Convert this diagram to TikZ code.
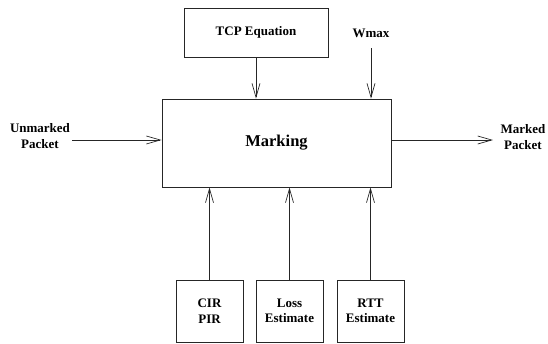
\documentclass[tikz,border=0pt]{standalone}
\usepackage{fontspec}
\setmainfont{Liberation Serif}
\usetikzlibrary{arrows.meta}
\begin{document}
\begin{tikzpicture}[x=1pt,y=-1pt,
  box/.style={draw=black!85, line width=0.8pt, align=center, inner sep=0pt,
    font=\bfseries\fontsize{13}{15.5}\selectfont},
  lbl/.style={align=center, inner sep=0pt, font=\bfseries\fontsize{13}{15.5}\selectfont},
  arr/.style={draw=black!85, line width=0.7pt, -{Straight Barb[length=14pt,width=8pt,line width=0.7pt]}}]
\useasboundingbox (0,0) rectangle (548,343);
\node[box, minimum width=144pt, minimum height=49pt] (tcp) at (256,32.5) {TCP Equation};
\node[box, minimum width=229pt, minimum height=88pt, font=\bfseries\fontsize{16.5}{19}\selectfont] (mark) at (276.5,143) {Marking};
\node[box, minimum width=67pt, minimum height=62pt] (cir) at (209.5,311) {CIR\\PIR};
\node[box, minimum width=67pt, minimum height=62pt] (loss) at (289.5,311) {Loss\\Estimate};
\node[box, minimum width=67pt, minimum height=62pt] (rtt) at (370.5,311) {RTT\\Estimate};
\node[lbl] (wmax) at (371,33) {Wmax};
\node[lbl] (unm) at (40,136) {Unmarked\\Packet};
\node[lbl] (mkd) at (523,137) {Marked\\Packet};
\coordinate (w0) at (371,48);
\coordinate (u0) at (72,140);
\coordinate (m0) at (493,140);
\draw[arr] (tcp.south) -- (tcp.south |- mark.north);
\draw[arr] (w0) -- (w0 |- mark.north);
\draw[arr] (u0) -- (u0 -| mark.west);
\draw[arr] (m0 -| mark.east) -- (m0);
\draw[arr] (cir.north) -- (cir.north |- mark.south);
\draw[arr] (loss.north) -- (loss.north |- mark.south);
\draw[arr] (rtt.north) -- (rtt.north |- mark.south);
\end{tikzpicture}
\end{document}
